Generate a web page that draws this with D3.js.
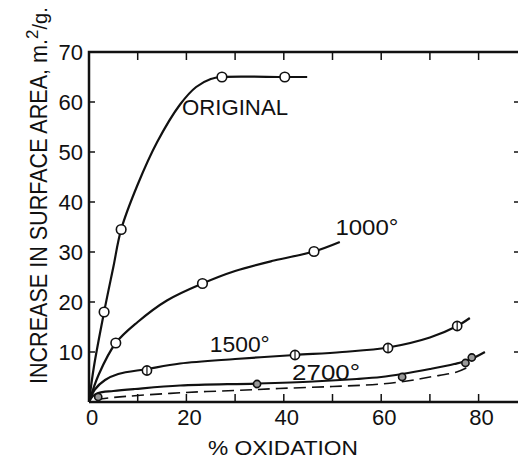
<!DOCTYPE html>
<html><head><meta charset="utf-8">
<script src="https://cdn.jsdelivr.net/npm/d3@7"></script>
<style>body{margin:0;background:#fff}text{font-family:"Liberation Sans",Arial,sans-serif;fill:#111}</style>
</head><body><svg id="c" width="518" height="462"></svg>
<script>
const xTicks = [0,10,20,30,40,50,60,70,80];
const xLabels = [0,20,40,60,80];
const yTicks = [10,20,30,40,50,60,70];
const yLabels = [10,20,30,40,50,60,70];

const originalPts = [[3.1,18],[6.6,34.5],[27.3,65],[40.2,65]];
const originalCurve = [[0,0],[1,7],[3.1,18],[5,27],[6.6,34.5],[10,43.5],[14,52],[18.7,59.5],[22,63],[25,64.6],[27.3,65],[40.2,65],[44.8,65]];
const t1000Pts = [[5.5,11.8],[23.3,23.7],[46.2,30.1]];
const t1000Curve = [[0,0],[2,5.5],[5.5,11.8],[10,16],[16,20.3],[23.3,23.7],[30,26.2],[38,28.3],[46.2,30.1],[51.5,32]];
const t1500Pts = [[11.9,6.3],[42.3,9.4],[61.4,10.8],[75.6,15.2]];
const t1500Curve = [[0,0],[1.2,2.5],[3.3,4.4],[6,5.6],[11.9,6.6],[18.7,7.7],[30,8.6],[42.3,9.4],[52,10],[61.4,10.9],[70,12.9],[75.6,15.2],[78.2,16.8]];
const t2700Pts = [[1.9,1.0],[34.5,3.6],[64.3,5],[77.3,7.8],[78.6,8.9]];
const t2700Curve = [[0,0],[0.8,1.2],[1.9,1.8],[5,2.2],[9.4,2.6],[18.7,3.3],[34.5,3.7],[46,4.1],[55,4.6],[60,5],[64.3,5.6],[70,6.6],[75,7.6],[78,8.4],[81.3,10]];
const dashedCurve = [[1.5,0.5],[5,0.9],[10,1.3],[19.7,1.9],[30,2.3],[39,2.7],[50,3.1],[60,3.6],[66,4.3],[70,5],[75.5,6],[77.5,6.8]];
const labels = [["ORIGINAL",19.1,57.4,106],["1000°",50.6,33.4,63],["1500°",24.8,10,60],["2700°",41.7,4.4,68]];

const svg = d3.select("#c");
const x = d3.scaleLinear().domain([0,88.5]).range([89,520]);
const y = d3.scaleLinear().domain([0,70]).range([402,52]);

const g = svg.append("g");
g.append("path").attr("d",`M${x(0)},${y(0)}H${x(88.5)}M${x(0)},${y(0)}V${y(70)}H${x(88.5)}`)
  .attr("fill","none").attr("stroke","#111").attr("stroke-width",2.5);
xTicks.filter(d=>d>0).forEach(d=>{
  g.append("line").attr("x1",x(d)).attr("x2",x(d)).attr("y1",y(0)).attr("y2",y(0)-8).attr("stroke","#111").attr("stroke-width",1.5);
  g.append("line").attr("x1",x(d)).attr("x2",x(d)).attr("y1",y(70)).attr("y2",y(70)+8).attr("stroke","#111").attr("stroke-width",1.5);
});
yTicks.forEach(d=>{
  g.append("line").attr("x1",x(0)).attr("x2",x(0)+6).attr("y1",y(d)).attr("y2",y(d)).attr("stroke","#111").attr("stroke-width",1.5);
  if(d<70) g.append("line").attr("x1",x(88.5)-6).attr("x2",x(88.5)).attr("y1",y(d)).attr("y2",y(d)).attr("stroke","#111").attr("stroke-width",1.5);
});
yLabels.forEach(d=>{
  g.append("text").attr("x",83).attr("y",y(d)+8).attr("text-anchor","end").attr("font-size",22).text(d);
});
xLabels.forEach(d=>{
  g.append("text").attr("x",x(d)+3).attr("y",425).attr("text-anchor","middle").attr("font-size",22).text(d);
});
g.append("text").attr("x",208).attr("y",455).attr("font-size",21)
  .attr("textLength",150).attr("lengthAdjust","spacingAndGlyphs").text("% OXIDATION");
const yt = g.append("text").attr("transform","translate(47,384) rotate(-90)").attr("font-size",23);
yt.append("tspan").attr("textLength",345).attr("lengthAdjust","spacingAndGlyphs").text("INCREASE IN SURFACE AREA, m.");
yt.append("tspan").attr("dy",-9).attr("font-size",17).text("2");
yt.append("tspan").attr("dy",9).attr("font-size",20).text("/g.");

const line = d3.line().x(d=>x(d[0])).y(d=>y(d[1])).curve(d3.curveCatmullRom.alpha(0.5));
[originalCurve,t1000Curve,t1500Curve,t2700Curve].forEach(c=>{
  g.append("path").attr("d",line(c)).attr("fill","none").attr("stroke","#111").attr("stroke-width",2.2);
});
g.append("path").attr("d",line(dashedCurve)).attr("fill","none").attr("stroke","#111").attr("stroke-width",1.6).attr("stroke-dasharray","12,6");

function pts(arr,fill,r){
  g.selectAll(null).data(arr).enter().append("circle")
   .attr("cx",d=>x(d[0])).attr("cy",d=>y(d[1])).attr("r",r)
   .attr("fill",fill).attr("stroke","#111").attr("stroke-width",1.6);
}
pts(originalPts,"#fff",4.8); pts(t1000Pts,"#fff",4.8); pts(t1500Pts,"#fff",4.6); pts(t2700Pts,"#999",3.6);
g.selectAll(null).data(t1500Pts).enter().append("line")
  .attr("x1",d=>x(d[0])).attr("x2",d=>x(d[0])).attr("y1",d=>y(d[1])-4.6).attr("y2",d=>y(d[1])+4.6)
  .attr("stroke","#111").attr("stroke-width",1.2);

labels.forEach(l=>{
  g.append("text").attr("x",x(l[1])).attr("y",y(l[2])).attr("font-size",22)
   .attr("textLength",l[3]).attr("lengthAdjust","spacingAndGlyphs").text(l[0]);
});
</script></body></html>
